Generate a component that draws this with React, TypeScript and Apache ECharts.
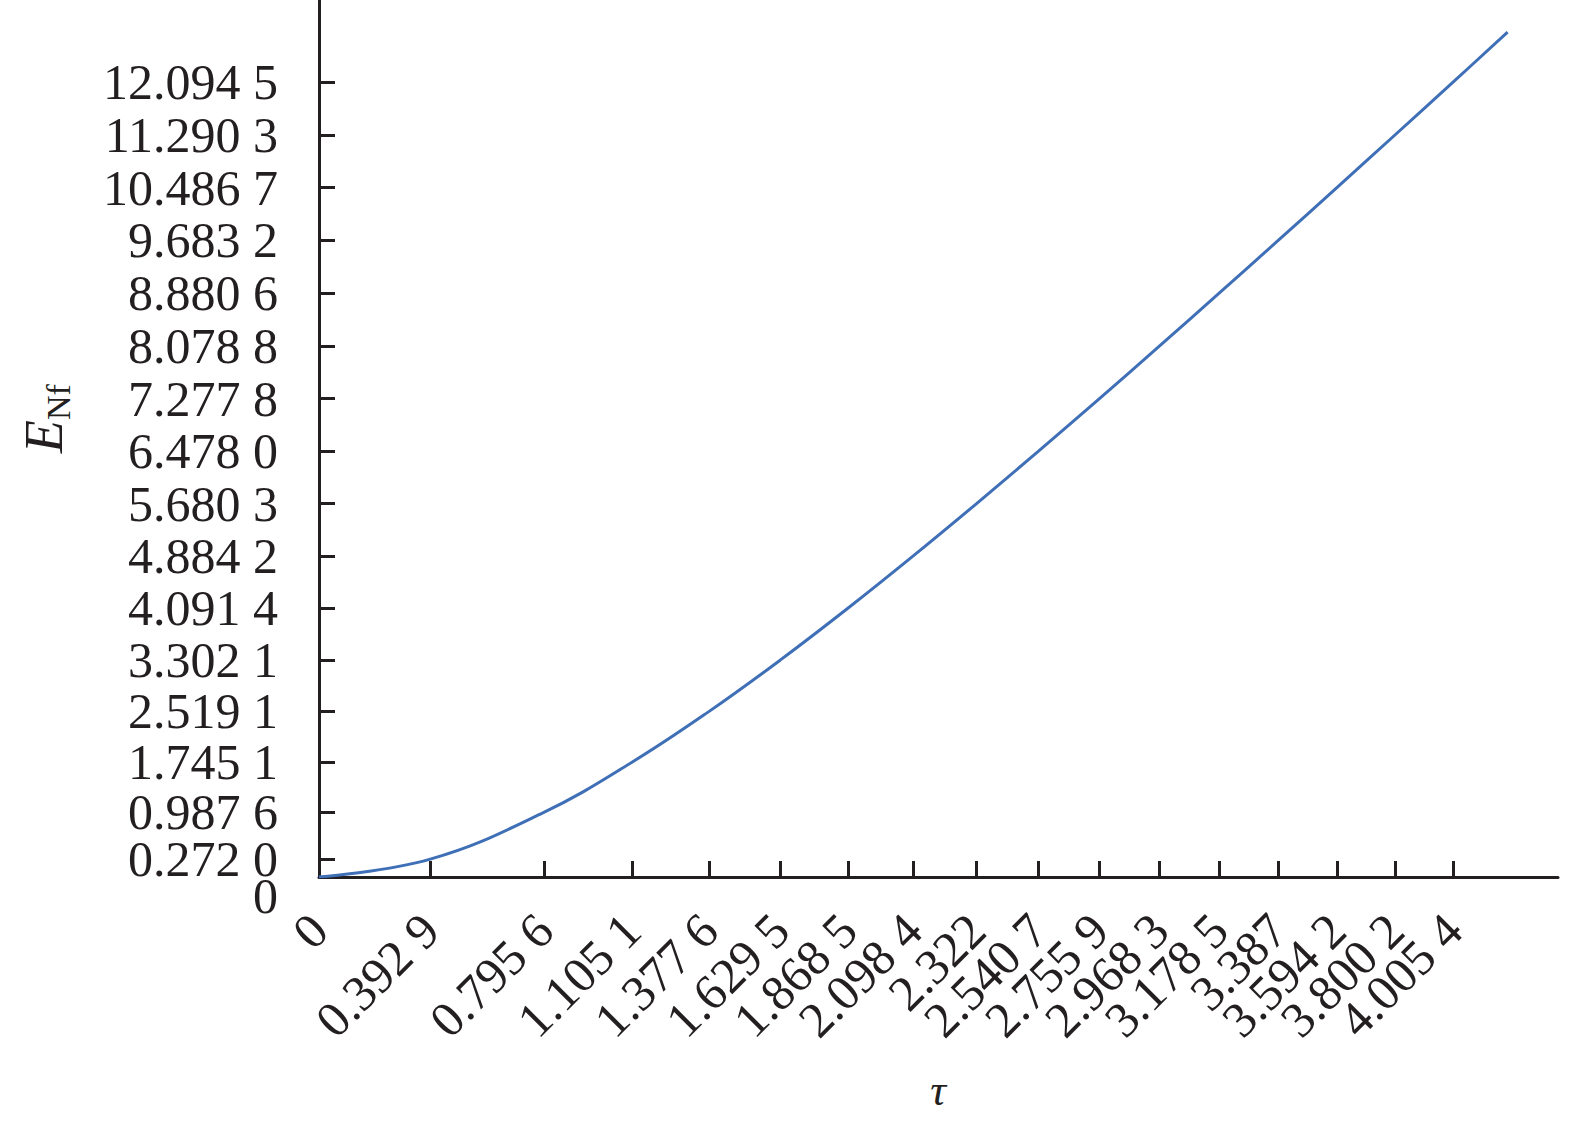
import React, { useEffect, useRef } from "react";
import * as echarts from "echarts";

const tauValues = [0, 0.3929, 0.7956, 1.1051, 1.3776, 1.6295, 1.8685, 2.0984, 2.322, 2.5407, 2.7559, 2.9683, 3.1785, 3.387, 3.5942, 3.8002, 4.0054];
const tauLabels = ["0", "0.392 9", "0.795 6", "1.105 1", "1.377 6", "1.629 5", "1.868 5", "2.098 4", "2.322", "2.540 7", "2.755 9", "2.968 3", "3.178 5", "3.387", "3.594 2", "3.800 2", "4.005 4"];
const eValues = [0, 0.272, 0.9876, 1.7451, 2.5191, 3.3021, 4.0914, 4.8842, 5.6803, 6.478, 7.2778, 8.0788, 8.8806, 9.6832, 10.4867, 11.2903, 12.0945];
const eLabels = ["0", "0.272 0", "0.987 6", "1.745 1", "2.519 1", "3.302 1", "4.091 4", "4.884 2", "5.680 3", "6.478 0", "7.277 8", "8.078 8", "8.880 6", "9.683 2", "10.486 7", "11.290 3", "12.094 5"];
// curve samples: E_Nf at each tick tau, plus the end point of the curve
const curveTau = [...tauValues, 4.197];
const curveE = [...eValues, 12.85];

const FONT = "'Liberation Serif', 'Times New Roman', serif";
const INK = "#231f20";
const X_MAX = 4.375;
const Y_MAX = 13.34;

function lookup(values: number[], labels: string[], v: number): string {
  for (let i = 0; i < values.length; i++) {
    if (Math.abs(values[i] - v) < 1e-6) return labels[i];
  }
  return "";
}

const evenOf = (a: number[]) => a.filter((_, i) => i % 2 === 0);
const oddOf = (a: number[]) => a.filter((_, i) => i % 2 === 1);

export default function App() {
  const ref = useRef<HTMLDivElement>(null);
  useEffect(() => {
    document.body.style.margin = "0";
    const chart = echarts.init(ref.current!, null, { renderer: "svg" });
    const data = curveTau.map((t, i) => [t, curveE[i]]);

    const xLabel = (vals: number[]) => ({
      customValues: vals,
      rotate: 45,
      margin: 45,
      hideOverlap: false,
      showMinLabel: true,
      showMaxLabel: true,
      color: INK,
      fontFamily: FONT,
      fontSize: 50,
      formatter: (v: number) => lookup(tauValues, tauLabels, v),
    });
    const yLabel = (vals: number[]) => ({
      customValues: vals,
      margin: 41,
      hideOverlap: false,
      showMinLabel: true,
      showMaxLabel: true,
      color: INK,
      fontFamily: FONT,
      fontSize: 50,
      formatter: (v: number) => lookup(eValues, eLabels, v),
    });

    chart.setOption({
      animation: false,
      backgroundColor: "#ffffff",
      grid: { left: 319, top: 0, right: 17, bottom: 249, containLabel: false, outerBoundsMode: "none" },
      xAxis: [
        {
          type: "value",
          position: "bottom",
          min: 0,
          max: X_MAX,
          splitLine: { show: false },
          axisLine: { show: true, onZero: false, lineStyle: { color: INK, width: 3 } },
          axisTick: { show: true, inside: true, length: 16, customValues: tauValues, lineStyle: { color: INK, width: 3 } },
          axisLabel: xLabel(evenOf(tauValues)),
        },
        {
          type: "value",
          position: "bottom",
          min: 0,
          max: X_MAX,
          splitLine: { show: false },
          axisLine: { show: false, onZero: false },
          axisTick: { show: false },
          axisLabel: xLabel(oddOf(tauValues)),
        },
      ],
      yAxis: [
        {
          type: "value",
          position: "left",
          min: 0,
          max: Y_MAX,
          splitLine: { show: false },
          axisLine: { show: true, onZero: false, lineStyle: { color: INK, width: 3 } },
          axisTick: { show: true, inside: true, length: 16, customValues: eValues, lineStyle: { color: INK, width: 3 } },
          axisLabel: yLabel(oddOf(eValues)),
        },
        {
          type: "value",
          position: "left",
          min: 0,
          max: Y_MAX,
          splitLine: { show: false },
          axisLine: { show: false, onZero: false },
          axisTick: { show: false },
          axisLabel: yLabel(evenOf(eValues).slice(1)),
        },
        {
          type: "value",
          position: "left",
          min: 0,
          max: Y_MAX,
          splitLine: { show: false },
          axisLine: { show: false, onZero: false },
          axisTick: { show: false },
          axisLabel: {
            customValues: [eValues[0]],
            margin: 41,
            showMinLabel: true,
            showMaxLabel: true,
            color: INK,
            fontFamily: FONT,
            fontSize: 50,
            formatter: (v: number) => "{z|" + lookup(eValues, eLabels, v) + "}",
            rich: {
              z: { padding: [38, 0, 0, 0], fontSize: 50, fontFamily: FONT, color: INK },
            },
          },
        },
      ],
      series: [
        {
          type: "line",
          xAxisIndex: 0,
          yAxisIndex: 0,
          data,
          smooth: 0.4,
          showSymbol: false,
          symbol: "none",
          lineStyle: { color: "#3f6fb6", width: 3 },
          z: 1,
        },
      ],
      graphic: [
        {
          type: "group",
          x: 44,
          y: 453,
          rotation: Math.PI / 2,
          children: [
            {
              type: "text",
              x: 0,
              y: 0,
              style: { text: "E", fontFamily: FONT, fontStyle: "italic", fontSize: 54, fill: INK, align: "left", verticalAlign: "middle" },
            },
            {
              type: "text",
              x: 33,
              y: 14,
              style: { text: "Nf", fontFamily: FONT, fontSize: 34, fill: INK, align: "left", verticalAlign: "middle" },
            },
          ],
        },
        {
          type: "text",
          x: 938,
          y: 1090,
          style: { text: "τ", fontFamily: FONT, fontStyle: "italic", fontSize: 44, fill: INK, align: "center", verticalAlign: "middle" },
        },
      ],
    });
    return () => chart.dispose();
  }, []);
  return <div ref={ref} style={{ width: 1575, height: 1126 }} />;
}
